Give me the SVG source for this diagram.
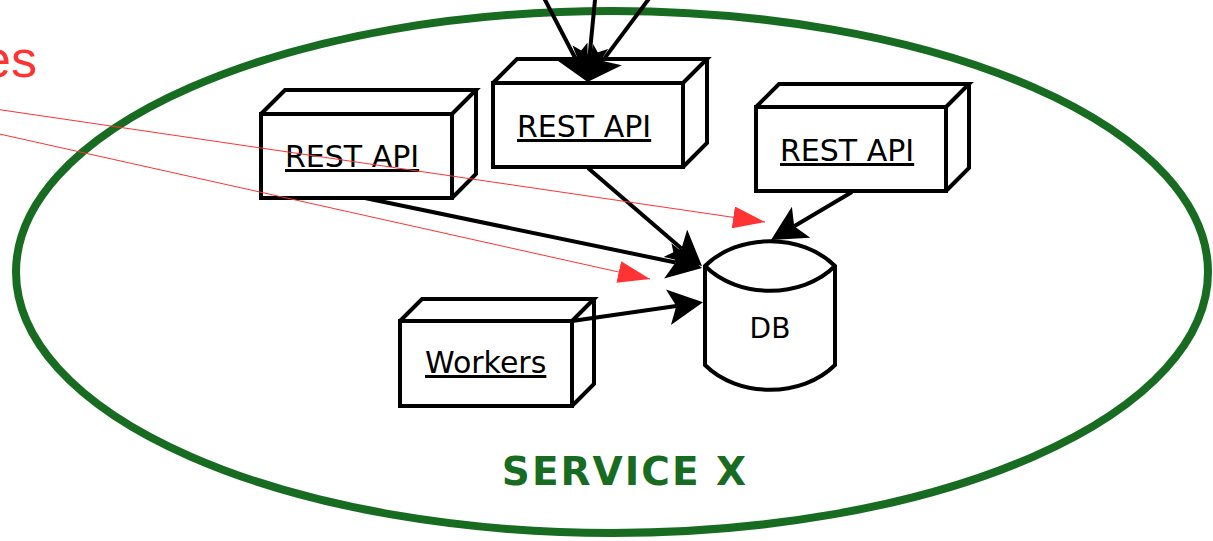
<svg xmlns="http://www.w3.org/2000/svg" width="1213" height="541" viewBox="0 0 1213 541">
  <style>
    .node { fill: #fff; stroke: #000; stroke-width: 4; stroke-linejoin: miter; }
    .label { font-family: "DejaVu Sans", sans-serif; font-size: 30px; fill: #000; text-decoration: underline; }
    .edge { fill: none; stroke: #000; stroke-width: 4; }
    .ext { fill: none; stroke: #f33; stroke-width: 1; }
  </style>
  <defs>
    <marker id="head" markerUnits="userSpaceOnUse" viewBox="0 0 35 36" markerWidth="35" markerHeight="36" refX="8" refY="18" orient="auto">
      <path d="M35,18 L0,0 L8,18 L0,36 Z" fill="#000"/>
    </marker>
    <marker id="headRed" markerUnits="userSpaceOnUse" viewBox="0 0 32 22" markerWidth="32" markerHeight="22" refX="32" refY="11" orient="auto">
      <path d="M32,11 L0,0 L0,22 Z" fill="#f33"/>
    </marker>
  </defs>
  <rect width="1213" height="541" fill="#fff"/>

  <!-- service boundary -->
  <g id="service-x">
    <ellipse cx="612" cy="272" rx="596" ry="261" fill="none" stroke="#186c21" stroke-width="8"/>
    <text x="625" y="485" text-anchor="middle" font-family="DejaVu Sans, sans-serif" font-weight="bold" font-size="39" letter-spacing="2" fill="#186c21">SERVICE X</text>
  </g>

  <!-- external label -->
  <text id="external" x="37" y="77" text-anchor="end" font-family="Liberation Sans, Arial, sans-serif" font-size="52" fill="#f33">es</text>

  <!-- nodes -->
  <g id="rest-api-1">
    <path class="node" d="M261,114 H452 V198 H261 Z M261,114 L285,90 H476 L452,114 M452,198 L476,174 V90"/>
    <text class="label" x="285" y="167">REST API</text>
  </g>
  <g id="rest-api-2">
    <path class="node" d="M493,83 H683 V167 H493 Z M493,83 L517,59 H707 L683,83 M683,167 L707,143 V59"/>
    <text class="label" x="517" y="137">REST API</text>
  </g>
  <g id="rest-api-3">
    <path class="node" d="M756,107 H946 V191 H756 Z M756,107 L779,84 H969 L946,107 M946,191 L969,168 V84"/>
    <text class="label" x="780" y="161">REST API</text>
  </g>
  <g id="workers">
    <path class="node" d="M400,321 H572 V406 H400 Z M400,321 L422,299 H594 L572,321 M572,406 L594,384 V299"/>
    <text class="label" x="425" y="373">Workers</text>
  </g>
  <g id="db">
    <path class="node" d="M705,266 C738,233 802,233 835,266 V365 C802,398 738,398 705,365 Z"/>
    <path d="M705,266 C738,299 802,299 835,266" fill="none" stroke="#000" stroke-width="4"/>
    <text x="770" y="338" text-anchor="middle" font-family="DejaVu Sans, sans-serif" font-size="28" fill="#000">DB</text>
  </g>

  <!-- connectors: path ends at the notch of the arrowhead -->
  <g id="connectors">
    <path class="edge" d="M365,198 L675.6,262.5" marker-end="url(#head)"/>
    <path class="edge" d="M588,168 L681.5,248.4" marker-end="url(#head)"/>
    <path class="edge" d="M852,192 L794.2,226.3" marker-end="url(#head)"/>
    <path class="edge" d="M572,321 L676.3,306" marker-end="url(#head)"/>
    <path class="edge" d="M543,-4 L575.2,58" marker-end="url(#head)"/>
    <path class="edge" d="M595.4,-4 L589.6,55.1" marker-end="url(#head)"/>
    <path class="edge" d="M651,-4 L602.6,60.9" marker-end="url(#head)"/>
  </g>

  <!-- calls from outside the service -->
  <g id="external-connectors">
    <path class="ext" d="M-5,109 L765,222" marker-end="url(#headRed)"/>
    <path class="ext" d="M-5,133 L650,279" marker-end="url(#headRed)"/>
  </g>
</svg>
